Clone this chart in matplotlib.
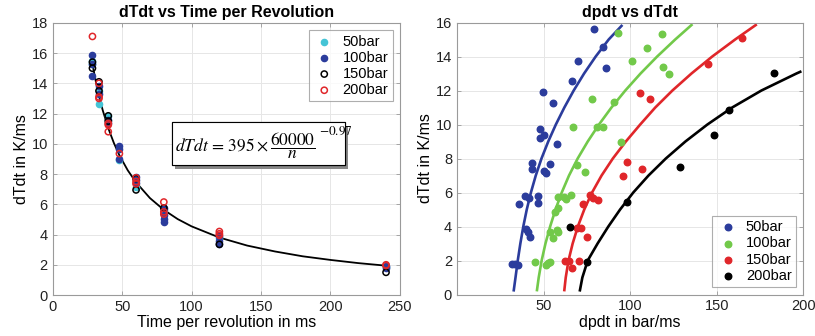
import matplotlib
matplotlib.use("Agg")
import matplotlib.pyplot as plt
import matplotlib.patheffects as pe
from matplotlib.patches import Rectangle

# ─── Left panel: dTdt vs time per revolution ─────────────────
t_50 = [28.6, 28.6, 33.3, 33.3, 40, 48, 60, 80, 120, 240]
y_50 = [15.5, 15.3, 12.6, 13.5, 11.85, 8.9, 7.15, 5.6, 3.75, 1.85]

t_100 = [28.6, 28.6, 28.6, 33.3, 33.3, 40, 40, 48, 48, 48, 60, 60, 60,
         80, 80, 80, 80, 120, 120, 120, 240, 240]
y_100 = [15.9, 14.5, 15.3, 13.8, 13.3, 11.6, 11.4, 9.85, 9.65, 9.0, 7.8, 7.6, 7.4,
         5.75, 5.3, 5.05, 4.85, 3.9, 3.6, 3.4, 1.9, 1.8]

t_150 = [28.6, 28.6, 33.3, 33.3, 40, 40, 60, 60, 80, 120, 240]
y_150 = [15.4, 15.0, 14.1, 13.5, 11.85, 11.5, 6.95, 7.7, 5.75, 3.35, 1.5]

t_200 = [28.6, 33.3, 33.3, 33.3, 40, 40, 40, 48, 60, 60, 60, 80, 80, 80,
         120, 120, 120, 240, 240]
y_200 = [17.1, 14.0, 13.0, 13.1, 11.35, 11.25, 10.8, 9.35, 7.75, 7.5, 7.35,
         6.15, 5.5, 5.35, 4.2, 4.05, 3.95, 2.0, 1.95]

# fitted curve dTdt = 395 * (60000/n)^-0.97
fit_t = [28.6, 31, 33.3, 36, 40, 44, 48, 54, 60, 70, 80, 90, 100, 120,
         140, 160, 180, 200, 220, 240]
fit_y = [15.27, 14.13, 13.18, 12.22, 11.03, 10.06, 9.24, 8.25, 7.45, 6.41,
         5.63, 5.02, 4.54, 3.80, 3.27, 2.88, 2.56, 2.32, 2.11, 1.94]

# ─── Right panel: dpdt vs dTdt ───────────────────────────────
p_50 = [32, 33.5, 35.5, 35.7, 39.5, 41.4, 39.9, 40.8, 42.0, 43.4, 43.4,
        46.8, 46.8, 48.0, 48.0, 49.9, 50.5, 50.5, 51.4, 53.6, 55.7, 58.0,
        66.7, 69.6, 79.4, 84.2, 86.1]
d_50 = [1.8, 1.8, 1.75, 5.3, 5.8, 5.66, 3.83, 3.7, 3.4, 7.72, 7.38,
        5.8, 5.36, 9.76, 9.23, 11.93, 9.37, 7.27, 7.13, 7.68, 11.24, 8.84,
        12.57, 13.71, 15.62, 14.54, 13.32]

p_100 = [45.0, 51.5, 52.5, 53.5, 54.0, 57.8, 58.6, 55.5, 56.4, 58.4,
         58.4, 62.0, 63.0, 65.9, 69.4, 74.2, 67.0, 77.8, 80.6, 84.2, 90.4,
         94.8, 93.2, 101.3, 110.0, 118.3, 118.7, 122.7]
d_100 = [1.9, 1.75, 1.85, 1.9, 3.7, 3.8, 3.7, 3.35, 4.86, 5.1,
         5.75, 5.75, 5.6, 5.85, 7.6, 7.22, 9.87, 11.5, 9.87, 9.83, 11.3,
         8.99, 15.36, 13.73, 14.52, 15.32, 13.4, 13.0]

p_150 = [62.6, 64.5, 66.5, 70.3, 69.4, 71.7, 75.1, 72.8, 77.0, 78.6,
         81.2, 95.6, 98.1, 106.8, 105.4, 111.6, 144.7, 164.6]
d_150 = [1.99, 1.99, 1.54, 1.95, 3.93, 3.93, 3.36, 5.3, 5.85, 5.7,
         5.58, 6.99, 7.78, 7.38, 11.87, 11.5, 13.56, 15.07]

p_200 = [65.1, 75.1, 98.1, 128.9, 148.2, 156.8, 182.8]
d_200 = [3.99, 1.93, 5.46, 7.52, 9.38, 10.85, 13.05]

# fit lines
curve_y = [0.25, 1, 2, 3, 4, 5, 6, 7, 8, 9, 10, 11, 12, 13, 14, 15, 15.8]
curve_50 = [32.8, 33.8, 35.1, 36.6, 38.3, 40.3, 42.7, 45.5, 48.8, 52.7,
            57.1, 62.0, 67.4, 73.4, 80.1, 87.6, 95.0]
curve_100_y = [0.26, 1, 2, 3, 4, 5, 6, 7, 8, 9, 10, 11, 12, 13, 14, 15, 15.85]
curve_100 = [46.2, 47.2, 48.9, 51.1, 53.8, 56.9, 60.5, 64.7, 69.7, 75.5,
             82.0, 89.2, 97.2, 106.0, 115.6, 126.0, 135.4]
curve_150_y = [0.26, 1, 2, 3, 4, 5, 6, 7, 8, 9, 10, 11, 12, 13, 14, 15, 15.85]
curve_150 = [62.0, 62.8, 64.4, 66.8, 69.8, 73.5, 78.0, 83.5, 90.0, 97.5,
             105.8, 114.5, 124.4, 135.4, 147.4, 160.6, 172.5]
curve_200_y = [0.25, 1, 2, 3, 4, 5, 6, 7, 8, 9, 10, 11, 12, 13, 13.1]
curve_200 = [71.0, 72.4, 75.5, 81.2, 87.4, 94.2, 101.8, 110.6, 120.6,
             131.9, 144.6, 158.9, 175.8, 196.0, 198.2]

CYAN = "#45c4d6"
BLUE = "#2b3c9c"
GREEN = "#72c94a"
RED = "#e0262a"
BLACK = "#000000"

plt.rcParams["font.family"] = ["Liberation Sans", "DejaVu Sans"]
plt.rcParams["mathtext.fontset"] = "stix"


def style_axes(ax):
    ax.grid(True, color="#e6e6e6", linewidth=0.7)
    ax.set_axisbelow(True)
    for sp in ax.spines.values():
        sp.set_color("#9a9a9a")
        sp.set_linewidth(0.8)
    ax.tick_params(direction="in", length=3, width=0.6, color="#9a9a9a",
                   labelsize=10.5, labelcolor="#222222", top=True, right=True,
                   labeltop=False, labelright=False)


fig = plt.figure(figsize=(8.15, 3.36), dpi=100)
ax1 = fig.add_axes([0.0647, 0.122, 0.426, 0.810])
ax2 = fig.add_axes([0.5607, 0.1235, 0.425, 0.8095])

# left
style_axes(ax1)
ax1.plot(fit_t, fit_y, color="black", linewidth=1.3, zorder=2)
ax1.scatter(t_50, y_50, s=20, color=CYAN, zorder=3, label="50bar")
ax1.scatter(t_100, y_100, s=20, color=BLUE, zorder=3, label="100bar")
ax1.scatter(t_150, y_150, s=20, facecolors="none", edgecolors=BLACK,
            linewidths=1.1, zorder=4, label="150bar")
ax1.scatter(t_200, y_200, s=20, facecolors="none", edgecolors=RED,
            linewidths=1.1, zorder=4, label="200bar")
ax1.set_xlim(0, 250)
ax1.set_ylim(0, 18)
ax1.set_xticks([0, 50, 100, 150, 200, 250])
ax1.set_yticks(range(0, 19, 2))
ax1.set_xlabel("Time per revolution in ms", fontsize=11.5, labelpad=1)
ax1.set_ylabel("dTdt in K/ms", fontsize=11.5, labelpad=2)
ax1.set_title("dTdt vs Time per Revolution", fontsize=11.5,
              fontweight="bold", pad=4)
leg1 = ax1.legend(loc="upper right", fontsize=10.5, frameon=True,
                  fancybox=False, edgecolor="#9a9a9a", handletextpad=0.5,
                  borderpad=0.3, labelspacing=0.15, handlelength=1.5,
                  borderaxespad=0.5)
leg1.get_frame().set_linewidth(0.8)

# equation box with drop shadow
box = Rectangle((0.3435, 0.477), 0.498, 0.158, transform=ax1.transAxes,
                facecolor="white", edgecolor="black", linewidth=0.8, zorder=5)
box.set_path_effects([pe.withSimplePatchShadow(offset=(2.5, -2.5),
                                               shadow_rgbFace="#888888",
                                               alpha=1.0), pe.Normal()])
ax1.add_patch(box)
ax1.text(0.353, 0.550, r"$dTdt\,=\,395\times\dfrac{60000}{n}$",
         transform=ax1.transAxes, ha="left", va="center", fontsize=12.5,
         zorder=6)
ax1.text(0.768, 0.622, r"$-0.97$", transform=ax1.transAxes, ha="left",
         va="top", fontsize=9.5, zorder=6)

# right
style_axes(ax2)
ax2.plot(curve_50, curve_y, color=BLUE, linewidth=1.9, zorder=2)
ax2.plot(curve_100, curve_100_y, color=GREEN, linewidth=1.9, zorder=2)
ax2.plot(curve_150, curve_150_y, color=RED, linewidth=1.9, zorder=2)
ax2.plot(curve_200, curve_200_y, color=BLACK, linewidth=1.9, zorder=2)
ax2.scatter(p_50, d_50, s=22, color=BLUE, zorder=3, label="50bar")
ax2.scatter(p_100, d_100, s=22, color=GREEN, zorder=3, label="100bar")
ax2.scatter(p_150, d_150, s=22, color=RED, zorder=3, label="150bar")
ax2.scatter(p_200, d_200, s=22, color=BLACK, zorder=3, label="200bar")
ax2.set_xlim(0, 200)
ax2.set_ylim(0, 16)
ax2.set_xticks([50, 100, 150, 200])
ax2.set_yticks(range(0, 17, 2))
ax2.set_xlabel("dpdt in bar/ms", fontsize=11.5, labelpad=1)
ax2.set_ylabel("dTdt in K/ms", fontsize=11.5, labelpad=2)
ax2.set_title("dpdt vs dTdt", fontsize=11.5, fontweight="bold", pad=4)
leg2 = ax2.legend(loc="lower right", fontsize=10.5, frameon=True,
                  fancybox=False, edgecolor="#9a9a9a", handletextpad=0.5,
                  borderpad=0.3, labelspacing=0.15, handlelength=1.5,
                  borderaxespad=0.5)
leg2.get_frame().set_linewidth(0.8)

fig.savefig("out.png", dpi=100)
